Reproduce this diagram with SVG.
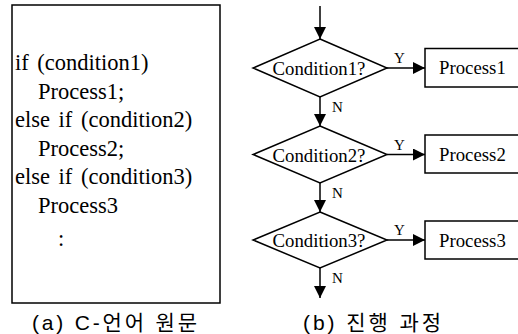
<svg xmlns="http://www.w3.org/2000/svg" width="518" height="334" viewBox="0 0 518 334">
<defs>
<style>
.code{font-size:22.5px;word-spacing:3px;fill:#000}
.lbl{font-size:18.8px;fill:#000}
.yn{font-size:15px;fill:#000}
.cap{font-size:21px;fill:#000}
.shape{fill:#fff;stroke:#000;stroke-width:1.5}
.line{stroke:#000;stroke-width:1.5;fill:none}
</style>
<marker id="ah" viewBox="0 0 12 12" refX="12" refY="6" markerWidth="12" markerHeight="12" markerUnits="userSpaceOnUse" orient="auto">
<path d="M0,0 L12,6 L0,12 Z" fill="#000"/>
</marker>
</defs>
<rect width="518" height="334" fill="#fff"/>
<g font-family="'Liberation Serif', 'Times New Roman', 'DejaVu Serif', serif">
<g id="code-box">
<rect class="shape" x="12" y="5" width="208" height="298"/>
<text class="code" x="15" y="70">if (condition1)</text>
<text class="code" x="38" y="98.5">Process1;</text>
<text class="code" x="15" y="127">else if (condition2)</text>
<text class="code" x="38" y="155.5">Process2;</text>
<text class="code" x="15" y="184">else if (condition3)</text>
<text class="code" x="38" y="212.5">Process3</text>
<text class="code" x="58" y="246">:</text>
</g>
<g id="cond1">
<polygon class="shape" points="320,39 387,68 320,97 253,68"/>
<text class="lbl" x="319" y="75" text-anchor="middle">Condition1?</text>
</g>
<g id="cond2">
<polygon class="shape" points="320,126 387,154.5 320,183 253,154.5"/>
<text class="lbl" x="319" y="161.5" text-anchor="middle">Condition2?</text>
</g>
<g id="cond3">
<polygon class="shape" points="320,212 387,240 320,268 253,240"/>
<text class="lbl" x="319" y="247" text-anchor="middle">Condition3?</text>
</g>
<g id="proc1">
<rect class="shape" x="425" y="48.5" width="100" height="38.5"/>
<text class="lbl" x="439" y="74">Process1</text>
</g>
<g id="proc2">
<rect class="shape" x="425" y="135" width="100" height="38"/>
<text class="lbl" x="439" y="160.5">Process2</text>
</g>
<g id="proc3">
<rect class="shape" x="425" y="221" width="100" height="38"/>
<text class="lbl" x="439" y="246.5">Process3</text>
</g>
<g id="connectors">
<line class="line" x1="320" y1="6" x2="320" y2="39" marker-end="url(#ah)"/>
<line class="line" x1="387" y1="68" x2="425" y2="68" marker-end="url(#ah)"/>
<line class="line" x1="320" y1="97" x2="320" y2="126" marker-end="url(#ah)"/>
<line class="line" x1="387" y1="154.5" x2="425" y2="154.5" marker-end="url(#ah)"/>
<line class="line" x1="320" y1="183" x2="320" y2="212" marker-end="url(#ah)"/>
<line class="line" x1="387" y1="240" x2="425" y2="240" marker-end="url(#ah)"/>
<line class="line" x1="320" y1="268" x2="320" y2="298" marker-end="url(#ah)"/>
<text class="yn" x="394" y="63">Y</text>
<text class="yn" x="394" y="149.5">Y</text>
<text class="yn" x="394" y="235">Y</text>
<text class="yn" x="332" y="112">N</text>
<text class="yn" x="332" y="198">N</text>
<text class="yn" x="332" y="283">N</text>
</g>
</g>
<g font-family="'Liberation Sans', 'Noto Sans CJK KR', sans-serif">
<g id="caption-a"><text class="cap" x="32" y="330" textLength="165" lengthAdjust="spacing">(a) C-언어 원문</text></g>
<g id="caption-b"><text class="cap" x="303" y="330" textLength="138" lengthAdjust="spacing">(b) 진행 과정</text></g>
</g>
</svg>
